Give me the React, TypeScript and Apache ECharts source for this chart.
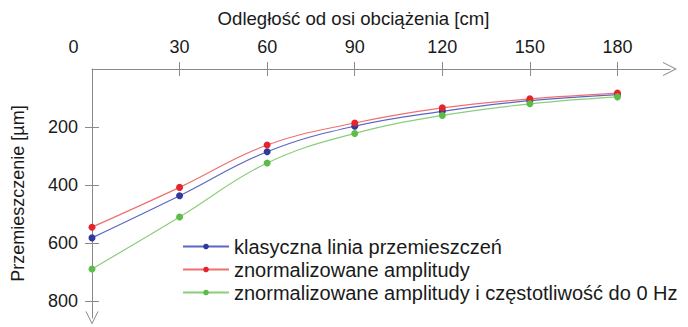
import React, { useEffect, useRef } from 'react';
import * as echarts from 'echarts';

const xValues = [0, 30, 60, 90, 120, 150, 180];
const classic = [582, 437, 285, 197, 146, 109, 88];
const normAmp = [545, 408, 262, 186, 134, 103, 83];
const normAmpFreq = [689, 510, 324, 222, 160, 120, 96];
const xTickValues = [30, 60, 90, 120, 150, 180];
const xLabelValues = [0, 30, 60, 90, 120, 150, 180];
const yTickValues = [200, 400, 600, 800];
const seriesNames = [
  'klasyczna linia przemieszczeń',
  'znormalizowane amplitudy',
  'znormalizowane amplitudy i częstotliwość do 0 Hz',
];
const xName = 'Odległość od osi obciążenia [cm]';
const yName = 'Przemieszczenie [µm]';

const FONT = "'Liberation Sans', Arial, sans-serif";
const AXIS = '#8a8a8a';
const TXT = '#1a1a1a';
const CHEVRON = 'path://M0,10 L5,0 L10,10 L9.2,10 L5,1.6 L0.8,10 Z';

export default function App() {
  const ref = useRef<HTMLDivElement>(null);
  useEffect(() => {
    if (!ref.current) return;
    const chart = echarts.init(ref.current, undefined, { renderer: 'svg' });
    const toPairs = (arr: number[]) => arr.map((v, i) => [xValues[i], v]);
    const mk = (name: string, data: number[], dot: string, line: string) => ({
      name,
      type: 'line',
      smooth: 0.4,
      data: toPairs(data),
      symbol: 'circle',
      symbolSize: 7,
      itemStyle: { color: dot },
      lineStyle: { color: line, width: 1.2 },
      xAxisIndex: 0,
      yAxisIndex: 0,
    });
    const xMin = 0, xMax = 198, yMin = 0, yMax = 858;
    chart.setOption({
      animation: false,
      textStyle: { fontFamily: FONT },
      grid: { left: 92, right: 18, top: 69, bottom: 9 },
      legend: {
        orient: 'vertical',
        left: 177,
        top: 230,
        itemWidth: 46,
        itemHeight: 7,
        itemGap: 0,
        textStyle: { fontSize: 20, color: TXT, fontFamily: FONT, lineHeight: 23 },
        data: seriesNames,
      },
      xAxis: [
        {
          type: 'value',
          position: 'top',
          min: xMin,
          max: xMax,
          name: xName,
          nameLocation: 'middle',
          nameGap: 41,
          nameTextStyle: { fontSize: 18.6, color: TXT, fontFamily: FONT, padding: [0, 55, 0, 0] },
          axisLine: { show: true, lineStyle: { color: AXIS, width: 1 }, symbol: ['none', CHEVRON], symbolSize: [14, 16] },
          axisTick: { show: true, length: 7, lineStyle: { color: AXIS }, customValues: xTickValues },
          axisLabel: {
            show: true,
            margin: 13,
            fontSize: 18,
            color: TXT,
            fontFamily: FONT,
            customValues: xLabelValues,
            formatter: (v: number) => (v === 0 ? '{z|0}' : String(v)),
            rich: { z: { fontSize: 18, color: TXT, fontFamily: FONT, padding: [0, 37, 0, 0] } },
          },
          splitLine: { show: false },
        },
        {
          type: 'value',
          position: 'top',
          min: xMin,
          max: xMax,
          axisLine: { show: false },
          axisTick: { show: true, inside: true, length: 7, lineStyle: { color: AXIS }, customValues: xTickValues },
          axisLabel: { show: false },
          splitLine: { show: false },
        },
      ],
      yAxis: [
        {
          type: 'value',
          inverse: true,
          position: 'left',
          min: yMin,
          max: yMax,
          name: yName,
          nameLocation: 'middle',
          nameGap: 65,
          nameTextStyle: { fontSize: 18, color: TXT, fontFamily: FONT },
          axisLine: { show: true, lineStyle: { color: AXIS, width: 1 }, symbol: [CHEVRON, 'none'], symbolSize: [13, 14] },
          axisTick: { show: true, length: 7, lineStyle: { color: AXIS }, customValues: yTickValues },
          axisLabel: { show: true, margin: 14, fontSize: 18, color: TXT, fontFamily: FONT, customValues: yTickValues },
          splitLine: { show: false },
        },
        {
          type: 'value',
          inverse: true,
          position: 'left',
          min: yMin,
          max: yMax,
          axisLine: { show: false },
          axisTick: { show: true, inside: true, length: 7, lineStyle: { color: AXIS }, customValues: yTickValues },
          axisLabel: { show: false },
          splitLine: { show: false },
        },
      ],
      series: [
        mk(seriesNames[0], classic, '#2e3a9c', '#5a66c4'),
        mk(seriesNames[1], normAmp, '#e4262c', '#f07070'),
        mk(seriesNames[2], normAmpFreq, '#5cbc4a', '#88cf78'),
      ],
    });
    return () => chart.dispose();
  }, []);
  return <div ref={ref} style={{ width: 688, height: 327, position: 'absolute', left: 0, top: 0 }} />;
}
